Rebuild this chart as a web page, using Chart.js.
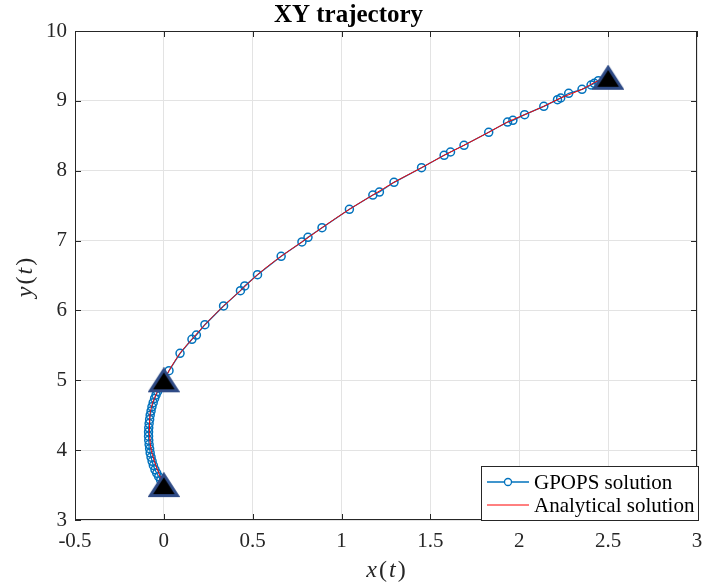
<!DOCTYPE html>
<html>
<head>
<meta charset="utf-8">
<script src="https://cdn.jsdelivr.net/npm/chart.js@4.4.1/dist/chart.umd.min.js"></script>
<style>
  html, body { margin: 0; padding: 0; background: #fff; }
</style>
</head>
<body>
<canvas id="c" width="706" height="586"></canvas>
<script>
// GPOPS collocation points (phase 1 then phase 2)
const gpopsX = [0, -0.008, -0.018, -0.029, -0.040, -0.050, -0.059, -0.066, -0.072, -0.077,
  -0.080, -0.083, -0.085, -0.086, -0.086, -0.085, -0.083, -0.080, -0.077, -0.072,
  -0.067, -0.060, -0.052, -0.044, -0.035, -0.025, -0.016, -0.007, 0,
  0.029, 0.091, 0.158, 0.183, 0.231, 0.336, 0.431, 0.455, 0.527, 0.660,
  0.777, 0.811, 0.890, 1.044, 1.176, 1.213, 1.295, 1.450, 1.577, 1.613,
  1.689, 1.828, 1.934, 1.964, 2.030, 2.138, 2.215, 2.233, 2.278, 2.353,
  2.404, 2.422, 2.445, 2.5];
const gpopsY = [3.50, 3.53, 3.57, 3.62, 3.67, 3.72, 3.78, 3.84, 3.90, 3.96,
  4.02, 4.08, 4.14, 4.20, 4.26, 4.32, 4.38, 4.44, 4.50, 4.56,
  4.62, 4.68, 4.74, 4.79, 4.84, 4.89, 4.93, 4.97, 5.00,
  5.137, 5.386, 5.587, 5.648, 5.796, 6.064, 6.283, 6.350, 6.512, 6.775,
  6.980, 7.047, 7.184, 7.448, 7.652, 7.695, 7.834, 8.043, 8.221, 8.268,
  8.364, 8.550, 8.697, 8.722, 8.802, 8.922, 9.017, 9.041, 9.108, 9.165,
  9.227, 9.251, 9.289, 9.33];

// analytical curve
const exactX = [0, -0.03, -0.06, -0.076, -0.082, -0.080, -0.069, -0.050, -0.032, 0,
  0.029, 0.091, 0.158, 0.231, 0.336, 0.431, 0.527, 0.660, 0.777, 0.890,
  1.044, 1.176, 1.295, 1.450, 1.577, 1.689, 1.828, 1.934, 2.030, 2.138,
  2.233, 2.353, 2.445, 2.5];
const exactY = [3.5, 3.68, 3.90, 4.08, 4.24, 4.42, 4.62, 4.76, 4.86, 5.0,
  5.137, 5.386, 5.587, 5.796, 6.064, 6.283, 6.512, 6.775, 6.980, 7.184,
  7.448, 7.652, 7.834, 8.043, 8.221, 8.364, 8.550, 8.697, 8.802, 8.922,
  9.041, 9.165, 9.289, 9.33];

// phase boundary markers
const eventX = [0, 0, 2.5];
const eventY = [3.5, 5, 9.33];

const xTicks = [-0.5, 0, 0.5, 1, 1.5, 2, 2.5, 3];
const yTicks = [3, 4, 5, 6, 7, 8, 9, 10];
const seriesNames = ['GPOPS solution', 'Analytical solution'];

const BLUE = '#0072BD';
const RED = '#FF0000';
const INK = '#262626';
const SERIF = '"Liberation Serif", "Times New Roman", serif';

const toPts = (xs, ys) => xs.map((x, i) => ({ x, y: ys[i] }));

// matlab-style '^' marker, centred on its bounding box
function triangleMarker() {
  const c = document.createElement('canvas');
  c.width = 32; c.height = 26;
  const g = c.getContext('2d');
  g.beginPath();
  g.moveTo(16, 2.5);
  g.lineTo(29.5, 23.5);
  g.lineTo(2.5, 23.5);
  g.closePath();
  g.fillStyle = '#000';
  g.fill();
  g.lineWidth = 3;
  g.lineJoin = 'miter';
  g.strokeStyle = '#2F4B86';
  g.stroke();
  return c;
}

// draws box, inward ticks, axis labels and the legend
const framePlugin = {
  id: 'frame',
  afterDraw(chart) {
    const { ctx, chartArea: a, scales: { x, y } } = chart;
    ctx.save();
    ctx.strokeStyle = INK;
    ctx.lineWidth = 1;
    ctx.strokeRect(a.left + 0.5, a.top + 0.5, a.width - 1, a.height - 1);

    ctx.beginPath();
    xTicks.forEach(v => {
      const px = Math.round(x.getPixelForValue(v)) + 0.5;
      ctx.moveTo(px, a.bottom); ctx.lineTo(px, a.bottom - 6);
      ctx.moveTo(px, a.top); ctx.lineTo(px, a.top + 6);
    });
    yTicks.forEach(v => {
      const py = Math.round(y.getPixelForValue(v)) + 0.5;
      ctx.moveTo(a.left, py); ctx.lineTo(a.left + 6, py);
      ctx.moveTo(a.right, py); ctx.lineTo(a.right - 6, py);
    });
    ctx.stroke();

    // axis labels: x(t), y(t) with italic letters
    const parts = [['x', 'italic'], ['(', 'normal'], ['t', 'italic'], [')', 'normal']];
    const drawLabel = (letter, cx, cy) => {
      const segs = parts.map(([s, st]) => [s === 'x' ? letter : s, st]);
      let total = 0;
      const widths = segs.map(([s, st]) => {
        ctx.font = `${st} 24px ${SERIF}`;
        const w = ctx.measureText(s).width + 2;
        total += w;
        return w;
      });
      let cur = cx - total / 2;
      ctx.fillStyle = INK;
      ctx.textBaseline = 'middle';
      ctx.textAlign = 'left';
      segs.forEach(([s, st], i) => {
        ctx.font = `${st} 24px ${SERIF}`;
        ctx.fillText(s, cur + 1, cy);
        cur += widths[i];
      });
    };
    drawLabel('x', (a.left + a.right) / 2, 571);
    ctx.save();
    ctx.translate(26, (a.top + a.bottom) / 2 + 2);
    ctx.rotate(-Math.PI / 2);
    drawLabel('y', 0, 0);
    ctx.restore();

    // legend box in the south-east corner
    const lw = 218, lh = 54;
    const lx = a.right - lw + 2, ly = a.bottom - lh;
    ctx.fillStyle = '#fff';
    ctx.fillRect(lx, ly, lw, lh);
    ctx.strokeStyle = INK;
    ctx.lineWidth = 1;
    ctx.strokeRect(lx + 0.5, ly + 0.5, lw - 1, lh);
    const rows = [ly + 16, ly + 39];
    ctx.lineWidth = 1.3;
    ctx.strokeStyle = BLUE;
    ctx.beginPath();
    ctx.moveTo(lx + 6, rows[0]); ctx.lineTo(lx + 48, rows[0]);
    ctx.stroke();
    ctx.beginPath();
    ctx.arc(lx + 27, rows[0], 3.5, 0, Math.PI * 2);
    ctx.fillStyle = '#fff';
    ctx.fill();
    ctx.stroke();
    ctx.strokeStyle = RED;
    ctx.lineWidth = 1;
    ctx.beginPath();
    ctx.moveTo(lx + 6, rows[1]); ctx.lineTo(lx + 48, rows[1]);
    ctx.stroke();
    ctx.fillStyle = '#000';
    ctx.font = `21px ${SERIF}`;
    ctx.textAlign = 'left';
    ctx.textBaseline = 'middle';
    seriesNames.forEach((n, i) => ctx.fillText(n, lx + 53, rows[i] + 1));
    ctx.restore();
  }
};

new Chart(document.getElementById('c'), {
  type: 'scatter',
  data: {
    datasets: [
      {
        label: 'events',
        data: toPts(eventX, eventY),
        pointStyle: triangleMarker(),
        pointRadius: 14,
        showLine: false,
        order: 0
      },
      {
        label: seriesNames[1],
        data: toPts(exactX, exactY),
        showLine: true,
        borderColor: RED,
        borderWidth: 1,
        pointRadius: 0,
        cubicInterpolationMode: 'monotone',
        tension: 0.4,
        order: 1
      },
      {
        label: seriesNames[0],
        data: toPts(gpopsX, gpopsY),
        showLine: true,
        borderColor: BLUE,
        borderWidth: 1.3,
        pointRadius: 4,
        pointBorderWidth: 1.5,
        pointBorderColor: BLUE,
        pointBackgroundColor: 'rgba(0,0,0,0)',
        order: 2
      }
    ]
  },
  options: {
    responsive: false,
    animation: false,
    layout: { autoPadding: false, padding: { top: 0, right: 9, bottom: 0, left: 0 } },
    plugins: {
      legend: { display: false },
      tooltip: { enabled: false },
      title: {
        display: true,
        text: 'XY trajectory',
        color: '#000',
        font: { family: SERIF, size: 25, weight: 'bold', lineHeight: 1 },
        padding: { top: 3, bottom: 3 }
      }
    },
    scales: {
      x: {
        type: 'linear',
        min: -0.5,
        max: 3,
        afterBuildTicks: s => { s.ticks = xTicks.map(v => ({ value: v })); },
        afterFit: s => { s.height = 66; s.paddingLeft = 0; s.paddingRight = 0; },
        grid: { color: '#e3e3e3', drawTicks: false },
        border: { display: false },
        ticks: { color: INK, font: { family: SERIF, size: 21 }, padding: 9, maxRotation: 0,
          callback: v => String(v) }
      },
      y: {
        type: 'linear',
        min: 3,
        max: 10,
        afterBuildTicks: s => { s.ticks = yTicks.map(v => ({ value: v })); },
        afterFit: s => { s.width = 75; s.paddingTop = 0; s.paddingBottom = 0; },
        grid: { color: '#e3e3e3', drawTicks: false },
        border: { display: false },
        ticks: { color: INK, font: { family: SERIF, size: 21 }, padding: 8,
          callback: v => String(v) }
      }
    }
  },
  plugins: [framePlugin]
});
</script>
</body>
</html>
